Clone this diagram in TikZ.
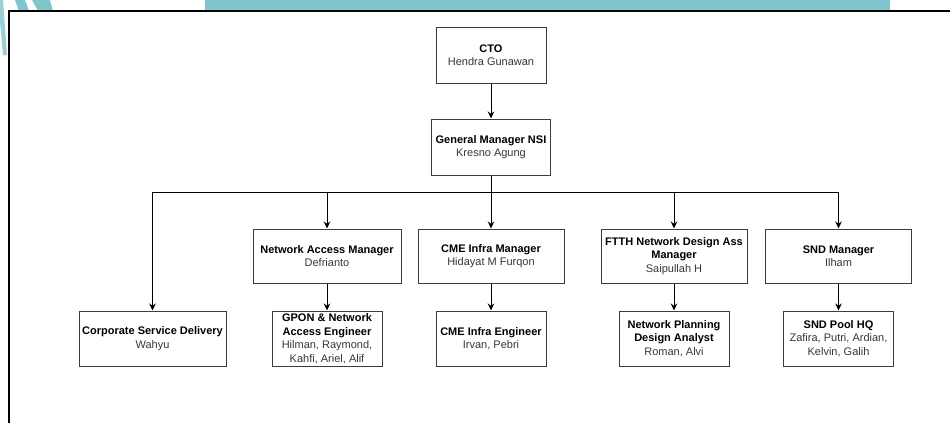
\documentclass[tikz,border=0pt]{standalone}
\usepackage{fontspec}
\setmainfont{Liberation Sans}
\usetikzlibrary{arrows.meta}
\definecolor{tealband}{RGB}{128,196,204}
\definecolor{boxline}{RGB}{60,60,60}
\definecolor{nametxt}{RGB}{55,55,55}
\newcommand{\orgT}[1]{\textbf{#1}}
\newcommand{\orgN}[1]{{\color{nametxt}#1}}
\begin{document}
\begin{tikzpicture}[x=1pt,y=-1pt,
  orgbox/.style={draw=boxline, line width=1pt, fill=white, align=center, inner sep=2pt,
    font=\fontsize{11}{13.5}\selectfont, text=black},
  mgr/.style={orgbox, minimum width=146pt, minimum height=54pt},
  eng/.style={orgbox, minimum width=110pt, minimum height=55pt},
  arr/.style={draw=black, line width=1pt, -{Stealth[length=7pt,width=6.5pt]}}]
\useasboundingbox (0,0) rectangle (950,423);
% background screenshot elements
\fill[tealband] (205,0) rectangle (890,11);
\fill[tealband, opacity=0.8] (0,0) -- (3,0) -- (7,55) -- (3,55) -- (0,22) -- cycle;
\fill[tealband] (15,0) -- (25,0) -- (29,11) -- (19,11) -- cycle;
\fill[tealband] (32,0) -- (50,0) -- (53,11) -- (38,11) -- cycle;
\fill[white] (10,11.5) rectangle (950,423);
\draw[black, line width=2pt] (9,423) -- (9,10.7) -- (950,10.7);
% nodes
\node[orgbox, minimum width=110pt, minimum height=56pt] (cto) at (491,55)
  {\orgT{CTO}\\\orgN{Hendra Gunawan}};
\node[orgbox, minimum width=119pt, minimum height=56pt] (gm) at (491,147)
  {\orgT{General Manager NSI}\\\orgN{Kresno Agung}};
\node[mgr, minimum width=148pt] (nam) at (327,256)
  {\orgT{Network Access Manager}\\\orgN{Defrianto}};
\node[mgr] (cmem) at (491,256)
  {\orgT{CME Infra Manager}\\\orgN{Hidayat M Furqon}};
\node[mgr] (ftth) at (674,256)
  {\orgT{FTTH Network Design Ass}\\\orgT{Manager}\\\orgN{Saipullah H}};
\node[mgr] (sndm) at (838.5,256)
  {\orgT{SND Manager}\\\orgN{Ilham}};
\node[eng, minimum width=147pt] (csd) at (152.5,338.5)
  {\orgT{Corporate Service Delivery}\\\orgN{Wahyu}};
\node[eng] (gpon) at (327,338.5)
  {\orgT{GPON \& Network}\\\orgT{Access Engineer}\\\orgN{Hilman, Raymond,}\\\orgN{Kahfi, Ariel, Alif}};
\node[eng] (cmee) at (491,338.5)
  {\orgT{CME Infra Engineer}\\\orgN{Irvan, Pebri}};
\node[eng] (npda) at (674,338.5)
  {\orgT{Network Planning}\\\orgT{Design Analyst}\\\orgN{Roman, Alvi}};
\node[eng] (sndp) at (838.5,338.5)
  {\orgT{SND Pool HQ}\\\orgN{Zafira, Putri, Ardian,}\\\orgN{Kelvin, Galih}};
% connectors
\coordinate (bus) at (491,192);
\draw[arr] (cto) -- (gm);
\draw[arr] (gm.south) -- (bus) -| (csd.north);
\draw[arr] (gm.south) -- (bus) -| (nam.north);
\draw[arr] (gm.south) -- (cmem.north);
\draw[arr] (gm.south) -- (bus) -| (ftth.north);
\draw[arr] (gm.south) -- (bus) -| (sndm.north);
\draw[arr] (nam) -- (gpon);
\draw[arr] (cmem) -- (cmee);
\draw[arr] (ftth) -- (npda);
\draw[arr] (sndm) -- (sndp);
\end{tikzpicture}
\end{document}
